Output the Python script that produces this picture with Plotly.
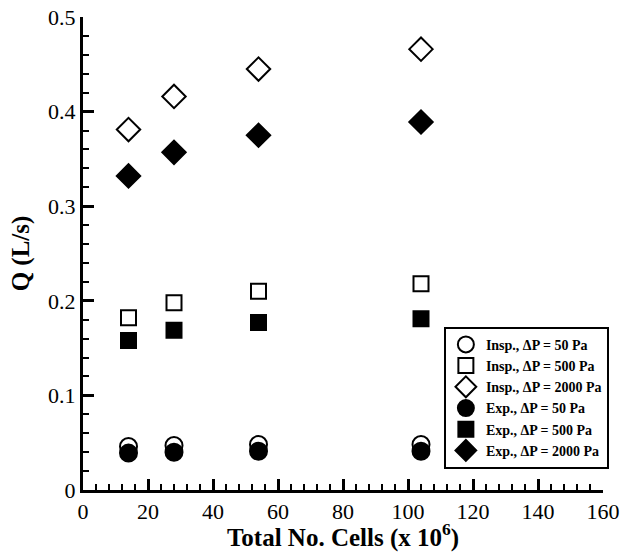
import plotly.graph_objects as go

cells = [14, 28, 54, 104]
insp_50 = [0.046, 0.047, 0.048, 0.048]
insp_500 = [0.182, 0.198, 0.210, 0.218]
insp_2000 = [0.381, 0.416, 0.445, 0.466]
exp_50 = [0.039, 0.040, 0.041, 0.041]
exp_500 = [0.158, 0.169, 0.177, 0.181]
exp_2000 = [0.332, 0.357, 0.375, 0.389]

names = ["Insp., ΔP = 50 Pa", "Insp., ΔP = 500 Pa", "Insp., ΔP = 2000 Pa",
         "Exp., ΔP = 50 Pa", "Exp., ΔP = 500 Pa", "Exp., ΔP = 2000 Pa"]
series = [insp_50, insp_500, insp_2000, exp_50, exp_500, exp_2000]
symbols = ["circle-open", "square-open", "diamond-open", "circle", "square", "diamond"]
sizes = [17, 15, 18, 17, 15, 18]

fig = go.Figure()
for i, (name, ys, sym, sz) in enumerate(zip(names, series, symbols, sizes)):
    fig.add_trace(go.Scatter(
        x=cells, y=ys, mode="markers", name=name, legendgroup=f"g{i}",
        marker=dict(symbol=sym, size=sz, color="black",
                    line=dict(color="black", width=2)),
    ))

FONT = "Liberation Serif"
fig.update_layout(
    width=623, height=552,
    margin=dict(l=83, r=20, t=17, b=62),
    plot_bgcolor="white", paper_bgcolor="white",
    font=dict(family=FONT, color="black", size=22),
    showlegend=True,
    legend=dict(
        x=0.694, y=0.345, xanchor="left", yanchor="top",
        bordercolor="black", borderwidth=2, bgcolor="white",
        font=dict(family=FONT, size=14, color="black", weight="bold"),
        tracegroupgap=0, itemwidth=30,
    ),
)
fig.update_xaxes(
    range=[0, 160], tickvals=[0, 20, 40, 60, 80, 100, 120, 140, 160],
    showline=True, linecolor="black", linewidth=3, mirror=False,
    ticks="inside", ticklen=11, tickwidth=3, tickcolor="black",
    minor=dict(ticks="inside", ticklen=6, tickwidth=2, tickcolor="black", dtick=4),
    showgrid=False, zeroline=False, automargin=False,
    tickfont=dict(family=FONT, size=22),
    title=dict(text="<b>Total No. Cells (x 10<sup>6</sup>)</b>",
               font=dict(family=FONT, size=25), standoff=2),
)
fig.update_yaxes(
    range=[0, 0.5], tickvals=[0, 0.1, 0.2, 0.3, 0.4, 0.5],
    ticktext=["0", "0.1", "0.2", "0.3", "0.4", "0.5"],
    showline=True, linecolor="black", linewidth=3, mirror=False,
    ticks="inside", ticklen=11, tickwidth=3, tickcolor="black",
    minor=dict(ticks="inside", ticklen=6, tickwidth=2, tickcolor="black", dtick=0.02),
    showgrid=False, zeroline=False, automargin=False,
    tickfont=dict(family=FONT, size=22),
    title=dict(text="<b>Q (L/s)</b>", font=dict(family=FONT, size=25), standoff=12),
)
fig.write_html(
    "out.html",
    config={"displayModeBar": False},
    post_script="document.body.style.margin='0';document.body.style.overflow='hidden';",
)
